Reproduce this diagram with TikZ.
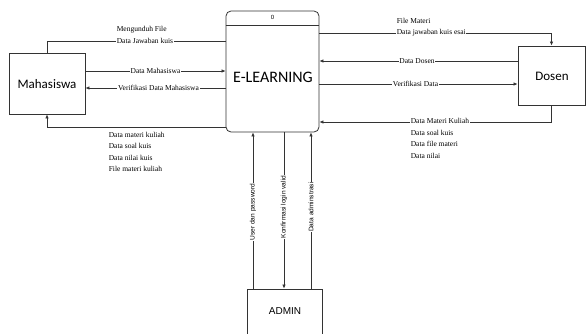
\documentclass[tikz,border=0pt]{standalone}
\usepackage{fontspec}
\setmainfont{Liberation Serif}
\newfontfamily\calibri{Carlito}
\newfontfamily\arial{Liberation Sans}
\usetikzlibrary{arrows.meta}

\tikzset{
  entity/.style={draw=black!80, line width=0.8pt, fill=white, inner sep=0pt},
  process/.style={draw=black!80, line width=0.8pt, fill=white, rounded corners=5pt, inner sep=0pt},
  flow/.style={draw=black!80, line width=0.7pt},
  arr/.style={flow, -{Latex[length=4pt,width=3.4pt]}},
  lbl/.style={font=\fontsize{7.5}{11.6}\selectfont, fill=white, inner sep=0.6pt, align=left},
  vlbl/.style={font=\arial\fontsize{6.6}{7}\selectfont, fill=white, inner sep=0.6pt, rotate=90},
  title/.style={font=\calibri\fontsize{13}{15}\selectfont},
}

\begin{document}
\begin{tikzpicture}[x=1pt, y=-1pt]
\useasboundingbox (0,0) rectangle (586,333);

% external entities and the central process
\node[entity, minimum width=76pt, minimum height=61pt] (mhs) at (47,83.5) {};
\node[title] (mhst) at (47,84) {Mahasiswa};
\node[entity, minimum width=67pt, minimum height=59pt] (dos) at (551.5,75.5) {};
\node[title] (dost) at (552,76) {Dosen};
\node[entity, minimum width=75pt, minimum height=56pt] (adm) at (284.5,317) {};
\node[font=\arial\fontsize{10}{12}\selectfont] (admt) at (285,311) {ADMIN};

\node[process, minimum width=93pt, minimum height=121pt] (el) at (272.5,71.5) {};
\draw[flow] (el.west |- 0,25) -- (el.east |- 0,25);
\node[font=\arial\fontsize{6}{7}\selectfont] (elno) at (272.5,17.5) {0};
\node[font=\calibri\fontsize{16}{18}\selectfont] (elt) at (273,77) {E-LEARNING};

% Mahasiswa flows
\draw[flow] (mhs.north) |- (el.west |- 0,41);
\node[lbl, anchor=west] at (116,35) {Mengunduh File\\Data Jawaban kuis};
\draw[arr] (mhs.east |- 0,71) -- (el.west |- 0,71);
\node[lbl] at (155.5,71) {Data Mahasiswa};
\draw[arr] (el.west |- 0,88) -- (mhs.east |- 0,88);
\node[lbl] at (158.5,88) {Verifikasi Data Mahasiswa};
\draw[arr] (el.west |- 0,127) -| (mhs.south);
\node[lbl, anchor=north west, fill=none] at (108,131) {Data materi kuliah\\Data soal kuis\\Data nilai kuis\\File materi kuliah};

% Dosen flows
\draw[arr] (el.east |- 0,33) -| (dos.north);
\node[lbl, anchor=west] at (396,27) {File Materi\\Data jawaban kuis esai};
\draw[arr] (dos.west |- 0,61) -- (el.east |- 0,61);
\node[lbl] at (417,61) {Data Dosen};
\draw[arr] (el.east |- 0,84) -- (dos.west |- 0,84);
\node[lbl] at (415.5,84) {Verifikasi Data};
\draw[arr] (dos.south) |- (el.east |- 0,122);
\node[lbl, anchor=north west] at (410,117.5) {Data Materi Kuliah\\Data soal kuis\\Data file materi\\Data nilai};

% ADMIN flows
\draw[arr] (adm.north -| 253,0) -- (el.south -| 253,0);
\node[vlbl] at (253,212) {User dan password};
\draw[arr] (el.south -| 284,0) -- (adm.north -| 284,0);
\node[vlbl] at (284,207) {Konfirmasi login valid};
\draw[arr] (adm.north -| 311,0) -- (el.south -| 311,0);
\node[vlbl] at (311,207) {Data adminstrasi};
\end{tikzpicture}
\end{document}
